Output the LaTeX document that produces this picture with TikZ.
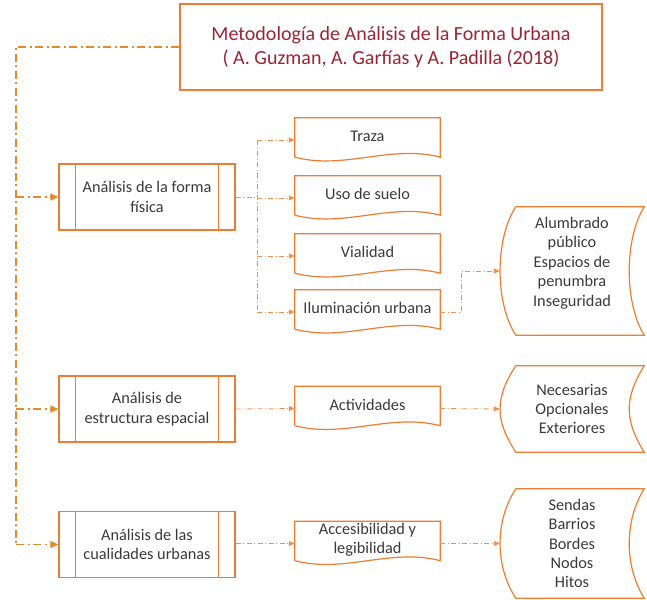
\documentclass[tikz,border=0pt]{standalone}
\usepackage{fontspec}
\setmainfont{Carlito}
\usetikzlibrary{calc,arrows.meta}
\definecolor{orng}{HTML}{ED7D31}
\definecolor{spine}{HTML}{E38A2A}
\definecolor{thin}{HTML}{F0904E}
\definecolor{txt}{HTML}{3A3A3A}
\definecolor{ttl}{HTML}{9B2335}
\newcommand\docshape[1]{\draw[shapeline] ($(#1.south west)+(0,-5)$) -- (#1.north west) -- (#1.north east) -- ($(#1.south east)+(0,-5)$) .. controls +(-50,-13) and +(50,13) .. ($(#1.south west)+(0,-5)$);}
\newcommand\stshape[1]{\draw[shapeline] ($(#1.north west)+(16,0)$) -- (#1.north east) .. controls +(-20,32) and +(-20,-32) .. (#1.south east) -- ($(#1.south west)+(16,0)$) .. controls +(-21,-32) and +(-21,32) .. ($(#1.north west)+(16,0)$);}
\newcommand\pbars[1]{\draw[shapeline] ($(#1.north west)+(17,0)$) -- ($(#1.south west)+(17,0)$) ($(#1.north east)+(-17,0)$) -- ($(#1.south east)+(-17,0)$);}
\tikzset{
  shapeline/.style={draw=orng, line width=1.2pt},
  pbox/.style={shapeline, minimum width=176pt, minimum height=66pt, inner sep=0pt, align=center, text=txt, font=\fontsize{16.3}{19.5}\selectfont},
  docbox/.style={minimum width=145pt, minimum height=44pt, inner sep=0pt},
  doctext/.style={align=center, text=txt, font=\fontsize{16.3}{19}\selectfont, inner sep=0pt, yshift=4pt},
  stbox/.style={minimum width=144pt, inner sep=0pt, align=center, text=txt, font=\fontsize{16.3}{19.4}\selectfont},
  stext/.style={align=center, text=txt, font=\fontsize{16.3}{19.4}\selectfont, inner sep=0pt},
  bigconn/.style={draw=spine, line width=1.2pt, dash pattern=on 8pt off 3.5pt on 2pt off 3.5pt},
  smallconn/.style={draw=thin, line width=0.8pt, dash pattern=on 5pt off 2.5pt on 1pt off 2.5pt},
  bigarrow/.style={-{Triangle[length=8pt,width=7pt,fill=spine]}},
  smallarrow/.style={-{Triangle[length=6pt,width=5pt,fill=thin]}}
}
\begin{document}
\begin{tikzpicture}[x=1pt,y=-1pt]
\useasboundingbox (0,0) rectangle (647,599);
% title
\node[shapeline, minimum width=422pt, minimum height=86pt, inner sep=0pt, align=center, text=ttl, font=\fontsize{20}{24}\selectfont] (title) at (391,47) {Metodología de Análisis de la Forma Urbana\\( A. Guzman, A. Garfías y A. Padilla (2018)};
% left boxes
\node[pbox] (b1) at (147,197) {Análisis de la forma\\física};
\node[pbox] (b2) at (147,409) {Análisis de\\estructura espacial};
\node[pbox] (b3) at (147,544.5) {Análisis de las\\cualidades urbanas};
\pbars{b1}\pbars{b2}\pbars{b3}
% middle documents
\node[docbox, label={[doctext]center:Traza}] (traza) at (367.5,140) {};
\node[docbox, label={[doctext]center:Uso de suelo}] (uso) at (367.5,198) {};
\node[docbox, label={[doctext]center:Vialidad}] (vial) at (367.5,256) {};
\node[docbox, label={[doctext]center:Iluminación urbana}] (ilum) at (367.5,312) {};
\node[docbox, label={[doctext]center:Actividades}] (act) at (367.5,408.5) {};
\node[docbox, label={[doctext]center:{Accesibilidad y\\legibilidad}}] (acc) at (367.5,543.5) {};
\docshape{traza}\docshape{uso}\docshape{vial}\docshape{ilum}\docshape{act}\docshape{acc}
% right stored data
\node[stbox, minimum height=128pt, label={[stext, yshift=8pt]center:{Alumbrado\\público\\Espacios de\\penumbra\\Inseguridad}}] (alum) at (572,271) {};
\node[stbox, minimum height=86pt] (nec) at (572,409) {Necesarias\\Opcionales\\Exteriores};
\node[stbox, minimum height=109pt] (send) at (572,543.5) {Sendas\\Barrios\\Bordes\\Nodos\\Hitos};
\stshape{alum}\stshape{nec}\stshape{send}
% spine connectors
\coordinate (sp) at (16,47);
\draw[bigconn] (title.west) -- (sp) -- (sp |- b3.west);
\draw[bigconn,bigarrow] (sp |- b1.west) -- (b1.west);
\draw[bigconn,bigarrow] (sp |- b2.west) -- (b2.west);
\draw[bigconn,bigarrow] (sp |- b3.west) -- (b3.west);
% branch from b1
\coordinate (br) at (257,197);
\draw[smallconn] (b1.east) -- (br);
\draw[smallconn] (br |- traza.west) -- (br |- ilum.west);
\draw[smallconn,smallarrow] (br |- traza.west) -- (traza.west);
\draw[smallconn,smallarrow] (br |- uso.west) -- (uso.west);
\draw[smallconn,smallarrow] (br |- vial.west) -- (vial.west);
\draw[smallconn,smallarrow] (br |- ilum.west) -- (ilum.west);
% iluminacion to alumbrado
\coordinate (il) at (461,312);
\draw[smallconn,smallarrow] (ilum.east) -- (il) |- (alum.west);
% others
\draw[smallconn,smallarrow] (b2.east) -- (act.west);
\draw[smallconn,smallarrow] (act.east) -- (nec.west);
\draw[smallconn,smallarrow] (b3.east |- acc.west) -- (acc.west);
\draw[smallconn,smallarrow] (acc.east) -- (send.west);
\end{tikzpicture}
\end{document}
